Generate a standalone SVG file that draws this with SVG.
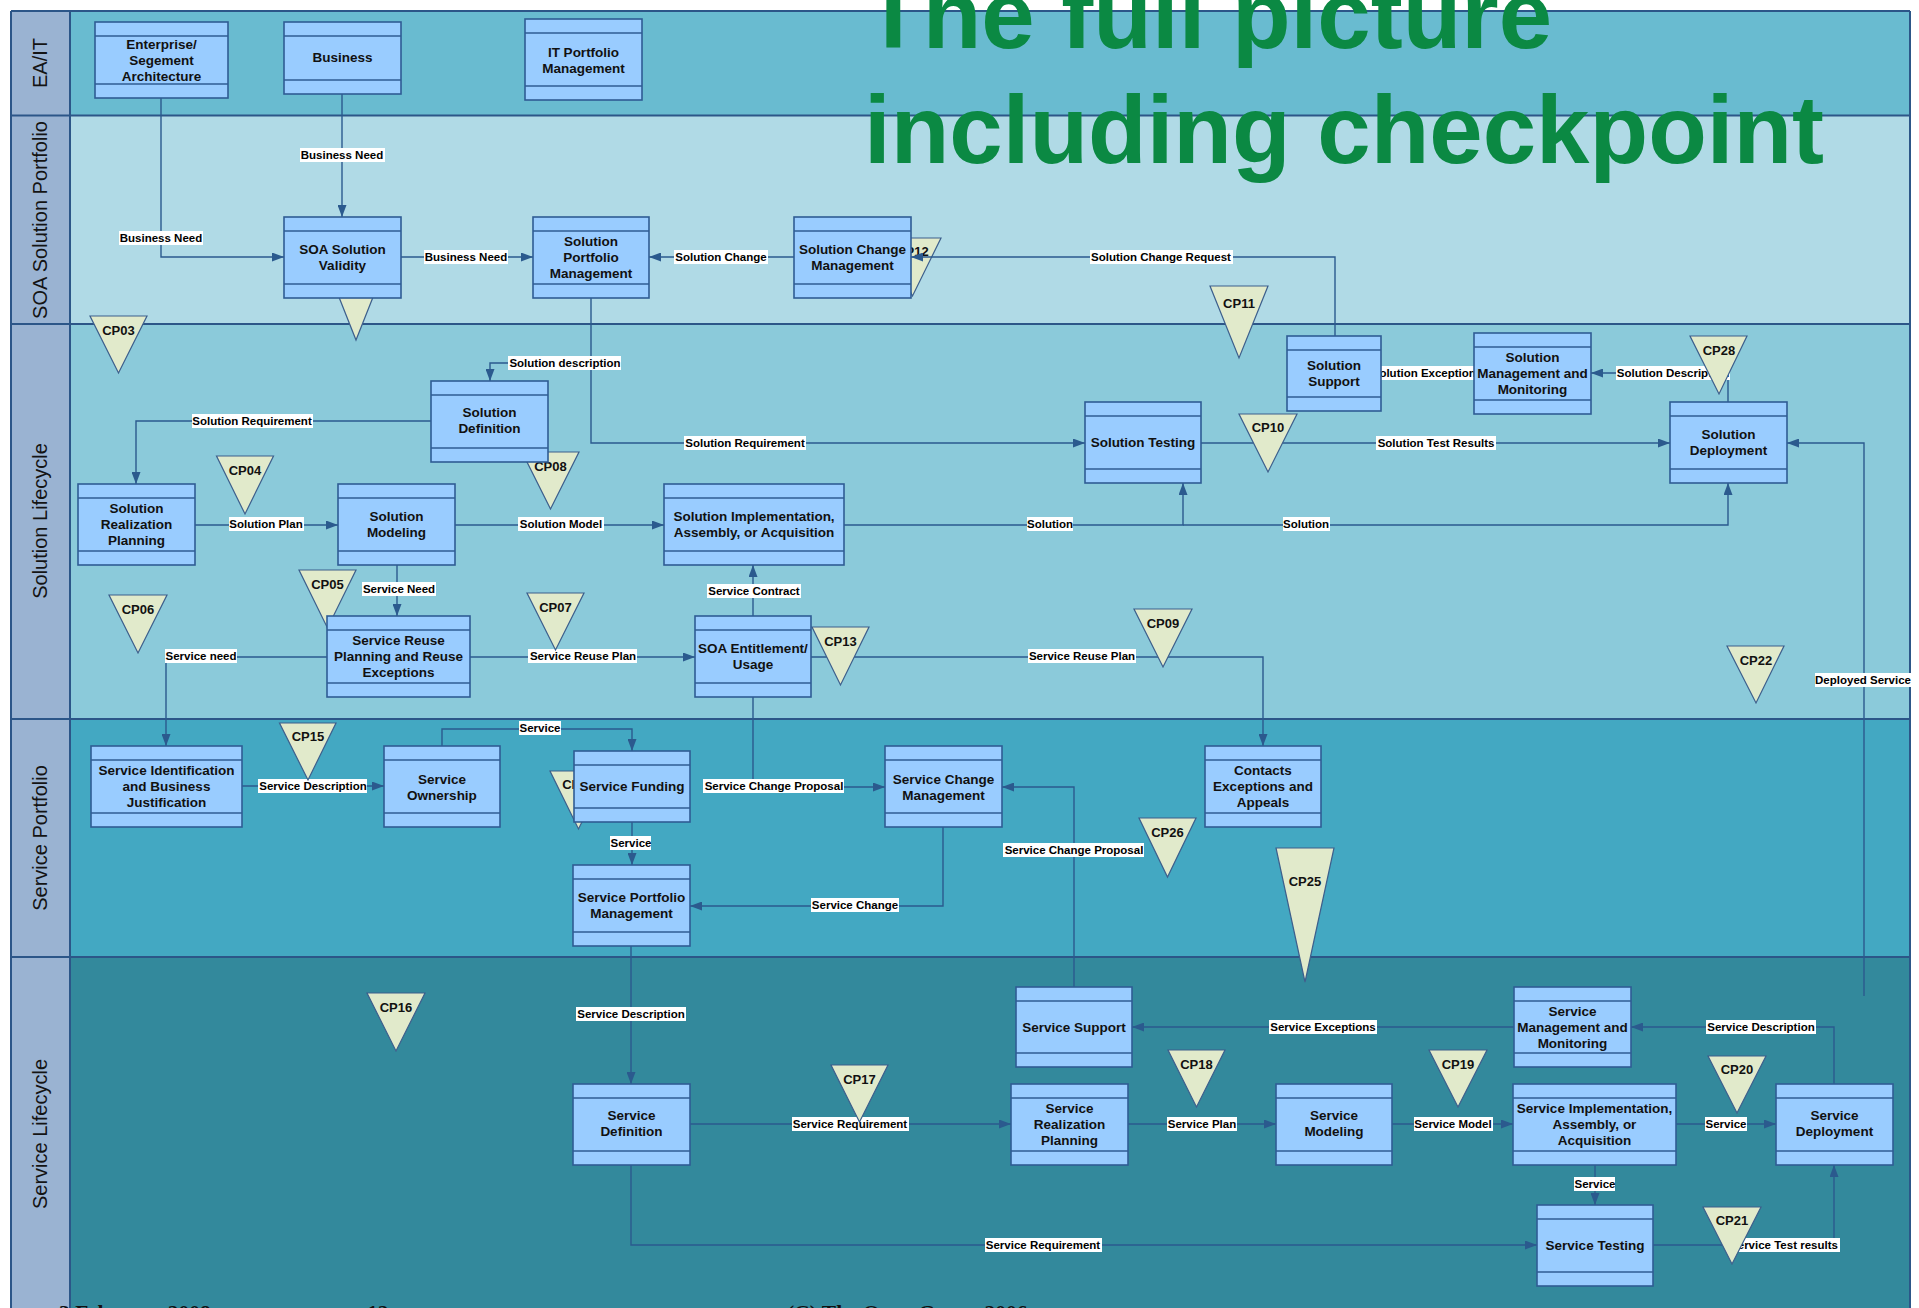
<svg xmlns="http://www.w3.org/2000/svg" width="1919" height="1308" viewBox="0 0 1919 1308">
<style>
.lb{stroke:#2C5688;stroke-width:2;fill:none}
.lt{font-family:"Liberation Sans",Arial,sans-serif;font-size:20px;fill:#141414;text-anchor:middle}
.node rect{fill:#99CCFF;stroke:#2F5C94;stroke-width:1.6}
.node path{stroke:#2F5C94;stroke-width:1.6;fill:none}
.node text{font-family:"Liberation Sans",Arial,sans-serif;font-weight:bold;font-size:13.5px;fill:#111;text-anchor:middle}
.cp polygon{fill:#E1EACB;stroke:#3D5F8C;stroke-width:1.2}
.cp text{font-family:"Liberation Sans",Arial,sans-serif;font-weight:bold;font-size:13px;fill:#111;text-anchor:middle}
.c{fill:none;stroke:#2B5A8E;stroke-width:1.4;marker-end:url(#ah)}
.cn{fill:none;stroke:#2B5A8E;stroke-width:1.4}
.el rect{fill:#fff}
.el text{font-family:"Liberation Sans",Arial,sans-serif;font-weight:bold;font-size:11.5px;fill:#000;text-anchor:middle}
.title{font-family:"Liberation Sans",Arial,sans-serif;font-weight:bold;font-size:96px;fill:#0B8943}
.foot{font-family:"Liberation Serif","Times New Roman",serif;font-weight:bold;font-size:21.5px;fill:#111}
</style>
<defs>
<marker id="ah" markerWidth="12" markerHeight="9" refX="12" refY="4.5" orient="auto" markerUnits="userSpaceOnUse">
<path d="M0,0 L12,4.5 L0,9 z" fill="#2B5A8E"/>
</marker>
</defs>
<rect x="0" y="0" width="1919" height="1308" fill="#fff"/>
<g id="lanes">
<rect x="11" y="11" width="1899" height="104.5" fill="#69BBD0"/>
<rect x="11" y="115.5" width="1899" height="208.5" fill="#B0DAE6"/>
<rect x="11" y="324" width="1899" height="395" fill="#8BCADA"/>
<rect x="11" y="719" width="1899" height="238" fill="#43A8C2"/>
<rect x="11" y="957" width="1899" height="360" fill="#33899C"/>
<rect x="11" y="11" width="59" height="1310" fill="#9AB3D2"/>
<path class="lb" d="M11,11 H1910 M11,115.5 H1910 M11,324 H1910 M11,719 H1910 M11,957 H1910 M11,11 V1320 M70,11 V1320 M1910,11 V1320"/>
<text class="lt" transform="translate(47,63) rotate(-90)">EA/IT</text>
<text class="lt" transform="translate(47,220) rotate(-90)">SOA Solution Portfolio</text>
<text class="lt" transform="translate(47,521) rotate(-90)">Solution Lifecycle</text>
<text class="lt" transform="translate(47,838) rotate(-90)">Service Portfolio</text>
<text class="lt" transform="translate(47,1134) rotate(-90)">Service Lifecycle</text>
</g>
<g id="cp12" class="cp"><polygon points="884,238 941,238 912.5,296"/><text x="912.5" y="256">CP12</text></g>
<g id="connectors">
<path class="c" d="M161,98 V257 H284"/>
<path class="c" d="M342,94 V217"/>
<path class="c" d="M401,257 H533"/>
<path class="c" d="M794,257 H649"/>
<path class="c" d="M1335,336 V257 H911"/>
<path class="c" d="M591,297 V443 H1085"/>
<path class="c" d="M591,363 H490 V381"/>
<path class="c" d="M431,421 H136 V484"/>
<path class="c" d="M195,525 H338"/>
<path class="c" d="M455,525 H664"/>
<path class="c" d="M844,525 H1183 V483"/>
<path class="c" d="M1183,525 H1728 V483"/>
<path class="c" d="M1201,443 H1670"/>
<path class="c" d="M1728,402 V373 H1591"/>
<path class="c" d="M1474,373 H1381"/>
<path class="c" d="M753,616 V565"/>
<path class="c" d="M470,657 H695"/>
<path class="c" d="M397,565 V616"/>
<path class="c" d="M327,657 H166 V746"/>
<path class="c" d="M811,657 H1263 V746"/>
<path class="c" d="M753,697 V787 H885"/>
<path class="c" d="M242,786 H384"/>
<path class="c" d="M442,746 V729 H632 V751"/>
<path class="c" d="M632,822 V865"/>
<path class="c" d="M943,827 V906 H690"/>
<path class="c" d="M1074,987 V787 H1002"/>
<path class="c" d="M631,946 V1084"/>
<path class="c" d="M690,1124 H1011"/>
<path class="c" d="M1128,1124 H1276"/>
<path class="c" d="M1392,1124 H1513"/>
<path class="c" d="M1676,1124 H1776"/>
<path class="c" d="M1595,1165 V1205"/>
<path class="c" d="M631,1165 V1245 H1537"/>
<path class="c" d="M1653,1245 H1834 V1165"/>
<path class="c" d="M1834,1084 V1027 H1631"/>
<path class="c" d="M1514,1027 H1132"/>
<path class="c" d="M1864,996 V443 H1787"/>
<g class="el">
<rect x="119" y="231" width="84" height="14"/><text x="161" y="242">Business Need</text>
<rect x="300" y="148" width="85" height="14"/><text x="342" y="159">Business Need</text>
<rect x="424" y="250" width="84" height="14"/><text x="466" y="261">Business Need</text>
<rect x="674" y="250" width="94" height="14"/><text x="721" y="261">Solution Change</text>
<rect x="1090" y="250" width="143" height="14"/><text x="1161" y="261">Solution Change Request</text>
<rect x="508" y="356" width="113" height="14"/><text x="565" y="367">Solution description</text>
<rect x="684" y="436" width="122" height="14"/><text x="745" y="447">Solution Requirement</text>
<rect x="192" y="414" width="121" height="14"/><text x="252" y="425">Solution Requirement</text>
<rect x="229" y="517" width="75" height="14"/><text x="266" y="528">Solution Plan</text>
<rect x="518" y="517" width="86" height="14"/><text x="561" y="528">Solution Model</text>
<rect x="1027" y="517" width="46" height="14"/><text x="1050" y="528">Solution</text>
<rect x="1283" y="517" width="47" height="14"/><text x="1306" y="528">Solution</text>
<rect x="1376" y="436" width="120" height="14"/><text x="1436" y="447">Solution Test Results</text>
<rect x="1616" y="366" width="114" height="14"/><text x="1673" y="377">Solution Description</text>
<rect x="1373" y="366" width="108" height="14"/><text x="1427" y="377">Solution Exceptions</text>
<rect x="707" y="584" width="94" height="14"/><text x="754" y="595">Service Contract</text>
<rect x="528" y="649" width="109" height="14"/><text x="583" y="660">Service Reuse Plan</text>
<rect x="362" y="582" width="74" height="14"/><text x="399" y="593">Service Need</text>
<rect x="165" y="649" width="72" height="14"/><text x="201" y="660">Service need</text>
<rect x="1028" y="649" width="108" height="14"/><text x="1082" y="660">Service Reuse Plan</text>
<rect x="703" y="779" width="141" height="14"/><text x="774" y="790">Service Change Proposal</text>
<rect x="258" y="779" width="109" height="14"/><text x="313" y="790">Service Description</text>
<rect x="519" y="721" width="42" height="14"/><text x="540" y="732">Service</text>
<rect x="610" y="836" width="41" height="14"/><text x="631" y="847">Service</text>
<rect x="811" y="898" width="88" height="14"/><text x="855" y="909">Service Change</text>
<rect x="1003" y="843" width="141" height="14"/><text x="1074" y="854">Service Change Proposal</text>
<rect x="576" y="1007" width="110" height="14"/><text x="631" y="1018">Service Description</text>
<rect x="792" y="1117" width="117" height="14"/><text x="850" y="1128">Service Requirement</text>
<rect x="1167" y="1117" width="70" height="14"/><text x="1202" y="1128">Service Plan</text>
<rect x="1414" y="1117" width="79" height="14"/><text x="1453" y="1128">Service Model</text>
<rect x="1705" y="1117" width="42" height="14"/><text x="1726" y="1128">Service</text>
<rect x="1574" y="1177" width="41" height="14"/><text x="1595" y="1188">Service</text>
<rect x="985" y="1238" width="117" height="14"/><text x="1043" y="1249">Service Requirement</text>
<rect x="1728" y="1238" width="112" height="14"/><text x="1784" y="1249">Service Test results</text>
<rect x="1706" y="1020" width="110" height="14"/><text x="1761" y="1031">Service Description</text>
<rect x="1269" y="1020" width="108" height="14"/><text x="1323" y="1031">Service Exceptions</text>
<rect x="1815" y="673" width="96" height="14"/><text x="1863" y="684">Deployed Service</text>
</g>
</g>
<g id="checkpoints">
<g id="cp03" class="cp"><polygon points="90,316 147,316 118.5,373"/><text x="118.5" y="335">CP03</text></g>
<g id="cp01" class="cp"><polygon points="333,282 379,282 356,340"/></g>
<g id="cp04" class="cp"><polygon points="216.5,456 273.5,456 245,514"/><text x="245" y="475">CP04</text></g>
<g id="cp05" class="cp"><polygon points="299,570 356,570 327.5,628"/><text x="327.5" y="589">CP05</text></g>
<g id="cp06" class="cp"><polygon points="109,595 167,595 138,653"/><text x="138" y="614">CP06</text></g>
<g id="cp07" class="cp"><polygon points="527,593 584,593 555.5,650"/><text x="555.5" y="612">CP07</text></g>
<g id="cp08" class="cp"><polygon points="522,452 579,452 550.5,509"/><text x="550.5" y="471">CP08</text></g>
<g id="cp13" class="cp"><polygon points="812,627 869,627 840.5,685"/><text x="840.5" y="646">CP13</text></g>
<g id="cp09" class="cp"><polygon points="1134,609 1192,609 1163,667"/><text x="1163" y="628">CP09</text></g>
<g id="cp10" class="cp"><polygon points="1239,414 1297,414 1268,472"/><text x="1268" y="432">CP10</text></g>
<g id="cp11" class="cp"><polygon points="1210,286 1268,286 1239,358"/><text x="1239" y="308">CP11</text></g>
<g id="cp28" class="cp"><polygon points="1690,336 1747,336 1719,394"/><text x="1719" y="355">CP28</text></g>
<g id="cp22" class="cp"><polygon points="1727,646 1784,646 1756,703"/><text x="1756" y="665">CP22</text></g>
<g id="cp15" class="cp"><polygon points="279.5,723 336,723 308,780"/><text x="308" y="741">CP15</text></g>
<g id="cp14" class="cp"><polygon points="550,771 607,771 578.5,829"/><text x="578.5" y="789">CP14</text></g>
<g id="cp26" class="cp"><polygon points="1139,818 1196,818 1167.5,877"/><text x="1167.5" y="837">CP26</text></g>
<g id="cp25" class="cp"><polygon points="1276,848 1334,848 1305,982"/><text x="1305" y="886">CP25</text></g>
<g id="cp16" class="cp"><polygon points="367,993 425,993 396,1051"/><text x="396" y="1012">CP16</text></g>
<g id="cp17" class="cp"><polygon points="831,1065 888,1065 859.5,1122"/><text x="859.5" y="1084">CP17</text></g>
<g id="cp18" class="cp"><polygon points="1168,1050 1225,1050 1196.5,1107"/><text x="1196.5" y="1069">CP18</text></g>
<g id="cp19" class="cp"><polygon points="1429,1050 1487,1050 1458,1107"/><text x="1458" y="1069">CP19</text></g>
<g id="cp20" class="cp"><polygon points="1708,1056 1766,1056 1737,1113"/><text x="1737" y="1074">CP20</text></g>
<g id="cp21" class="cp"><polygon points="1703,1207 1761,1207 1732,1264"/><text x="1732" y="1225">CP21</text></g>
</g>
<g id="n-ea" class="node"><rect x="95" y="22" width="133" height="76"/><path d="M95,36 h133 M95,84 h133"/><text><tspan x="161.5" y="49">Enterprise/</tspan><tspan x="161.5" y="65">Segement</tspan><tspan x="161.5" y="81">Architecture</tspan></text></g>
<g id="n-business" class="node"><rect x="284" y="22" width="117" height="72"/><path d="M284,36 h117 M284,80 h117"/><text x="342.5" y="62">Business</text></g>
<g id="n-itpm" class="node"><rect x="525" y="19" width="117" height="81"/><path d="M525,33 h117 M525,86 h117"/><text><tspan x="583.5" y="57">IT Portfolio</tspan><tspan x="583.5" y="73">Management</tspan></text></g>
<g id="n-soav" class="node"><rect x="284" y="217" width="117" height="81"/><path d="M284,231 h117 M284,284 h117"/><text><tspan x="342.5" y="254">SOA Solution</tspan><tspan x="342.5" y="270">Validity</tspan></text></g>
<g id="n-spm" class="node"><rect x="533" y="217" width="116" height="81"/><path d="M533,231 h116 M533,284 h116"/><text><tspan x="591" y="246">Solution</tspan><tspan x="591" y="262">Portfolio</tspan><tspan x="591" y="278">Management</tspan></text></g>
<g id="n-scm" class="node"><rect x="794" y="217" width="117" height="81"/><path d="M794,231 h117 M794,284 h117"/><text><tspan x="852.5" y="254">Solution Change</tspan><tspan x="852.5" y="270">Management</tspan></text></g>
<g id="n-sdef" class="node"><rect x="431" y="381" width="117" height="81"/><path d="M431,395 h117 M431,448 h117"/><text><tspan x="489.5" y="417">Solution</tspan><tspan x="489.5" y="433">Definition</tspan></text></g>
<g id="n-srp" class="node"><rect x="78" y="484" width="117" height="81"/><path d="M78,498 h117 M78,551 h117"/><text><tspan x="136.5" y="513">Solution</tspan><tspan x="136.5" y="529">Realization</tspan><tspan x="136.5" y="545">Planning</tspan></text></g>
<g id="n-smod" class="node"><rect x="338" y="484" width="117" height="81"/><path d="M338,498 h117 M338,551 h117"/><text><tspan x="396.5" y="521">Solution</tspan><tspan x="396.5" y="537">Modeling</tspan></text></g>
<g id="n-srpre" class="node"><rect x="327" y="616" width="143" height="81"/><path d="M327,630 h143 M327,683 h143"/><text><tspan x="398.5" y="645">Service Reuse</tspan><tspan x="398.5" y="661">Planning and Reuse</tspan><tspan x="398.5" y="677">Exceptions</tspan></text></g>
<g id="n-sia" class="node"><rect x="664" y="484" width="180" height="81"/><path d="M664,498 h180 M664,551 h180"/><text><tspan x="754" y="521">Solution Implementation,</tspan><tspan x="754" y="537">Assembly, or Acquisition</tspan></text></g>
<g id="n-soae" class="node"><rect x="695" y="616" width="116" height="81"/><path d="M695,630 h116 M695,683 h116"/><text><tspan x="753" y="653">SOA Entitlement/</tspan><tspan x="753" y="669">Usage</tspan></text></g>
<g id="n-stest" class="node"><rect x="1085" y="402" width="116" height="81"/><path d="M1085,416 h116 M1085,469 h116"/><text x="1143" y="447">Solution Testing</text></g>
<g id="n-ssup" class="node"><rect x="1287" y="336" width="94" height="75"/><path d="M1287,350 h94 M1287,397 h94"/><text><tspan x="1334" y="370">Solution</tspan><tspan x="1334" y="386">Support</tspan></text></g>
<g id="n-smm" class="node"><rect x="1474" y="333" width="117" height="81"/><path d="M1474,347 h117 M1474,400 h117"/><text><tspan x="1532.5" y="362">Solution</tspan><tspan x="1532.5" y="378">Management and</tspan><tspan x="1532.5" y="394">Monitoring</tspan></text></g>
<g id="n-sdep" class="node"><rect x="1670" y="402" width="117" height="81"/><path d="M1670,416 h117 M1670,469 h117"/><text><tspan x="1728.5" y="439">Solution</tspan><tspan x="1728.5" y="455">Deployment</tspan></text></g>
<g id="n-sibj" class="node"><rect x="91" y="746" width="151" height="81"/><path d="M91,760 h151 M91,813 h151"/><text><tspan x="166.5" y="775">Service Identification</tspan><tspan x="166.5" y="791">and Business</tspan><tspan x="166.5" y="807">Justification</tspan></text></g>
<g id="n-sown" class="node"><rect x="384" y="746" width="116" height="81"/><path d="M384,760 h116 M384,813 h116"/><text><tspan x="442" y="784">Service</tspan><tspan x="442" y="800">Ownership</tspan></text></g>
<g id="n-sfund" class="node"><rect x="574" y="751" width="116" height="71"/><path d="M574,765 h116 M574,808 h116"/><text x="632" y="791">Service Funding</text></g>
<g id="n-svpm" class="node"><rect x="573" y="865" width="117" height="81"/><path d="M573,879 h117 M573,932 h117"/><text><tspan x="631.5" y="902">Service Portfolio</tspan><tspan x="631.5" y="918">Management</tspan></text></g>
<g id="n-svcm" class="node"><rect x="885" y="746" width="117" height="81"/><path d="M885,760 h117 M885,813 h117"/><text><tspan x="943.5" y="784">Service Change</tspan><tspan x="943.5" y="800">Management</tspan></text></g>
<g id="n-ceap" class="node"><rect x="1205" y="746" width="116" height="81"/><path d="M1205,760 h116 M1205,813 h116"/><text><tspan x="1263" y="775">Contacts</tspan><tspan x="1263" y="791">Exceptions and</tspan><tspan x="1263" y="807">Appeals</tspan></text></g>
<g id="n-svsup" class="node"><rect x="1016" y="987" width="116" height="80"/><path d="M1016,1001 h116 M1016,1053 h116"/><text x="1074" y="1032">Service Support</text></g>
<g id="n-svmm" class="node"><rect x="1514" y="987" width="117" height="80"/><path d="M1514,1001 h117 M1514,1053 h117"/><text><tspan x="1572.5" y="1016">Service</tspan><tspan x="1572.5" y="1032">Management and</tspan><tspan x="1572.5" y="1048">Monitoring</tspan></text></g>
<g id="n-svdef" class="node"><rect x="573" y="1084" width="117" height="81"/><path d="M573,1098 h117 M573,1151 h117"/><text><tspan x="631.5" y="1120">Service</tspan><tspan x="631.5" y="1136">Definition</tspan></text></g>
<g id="n-svrp" class="node"><rect x="1011" y="1084" width="117" height="81"/><path d="M1011,1098 h117 M1011,1151 h117"/><text><tspan x="1069.5" y="1113">Service</tspan><tspan x="1069.5" y="1129">Realization</tspan><tspan x="1069.5" y="1145">Planning</tspan></text></g>
<g id="n-svmod" class="node"><rect x="1276" y="1084" width="116" height="81"/><path d="M1276,1098 h116 M1276,1151 h116"/><text><tspan x="1334" y="1120">Service</tspan><tspan x="1334" y="1136">Modeling</tspan></text></g>
<g id="n-svia" class="node"><rect x="1513" y="1084" width="163" height="81"/><path d="M1513,1098 h163 M1513,1151 h163"/><text><tspan x="1594.5" y="1113">Service Implementation,</tspan><tspan x="1594.5" y="1129">Assembly, or</tspan><tspan x="1594.5" y="1145">Acquisition</tspan></text></g>
<g id="n-svdep" class="node"><rect x="1776" y="1084" width="117" height="81"/><path d="M1776,1098 h117 M1776,1151 h117"/><text><tspan x="1834.5" y="1120">Service</tspan><tspan x="1834.5" y="1136">Deployment</tspan></text></g>
<g id="n-svtest" class="node"><rect x="1537" y="1205" width="116" height="81"/><path d="M1537,1219 h116 M1537,1272 h116"/><text x="1595" y="1250">Service Testing</text></g>
<g id="title">
<text class="title" x="864" y="48">The full picture</text>
<text class="title" x="864" y="163">including checkpoint</text>
</g>
<g id="footer">
<text class="foot" x="59" y="1320">3 February 2008</text>
<text class="foot" x="367" y="1320">12</text>
<text class="foot" x="787" y="1320">(C) The Open Group 2006</text>
</g>
</svg>
